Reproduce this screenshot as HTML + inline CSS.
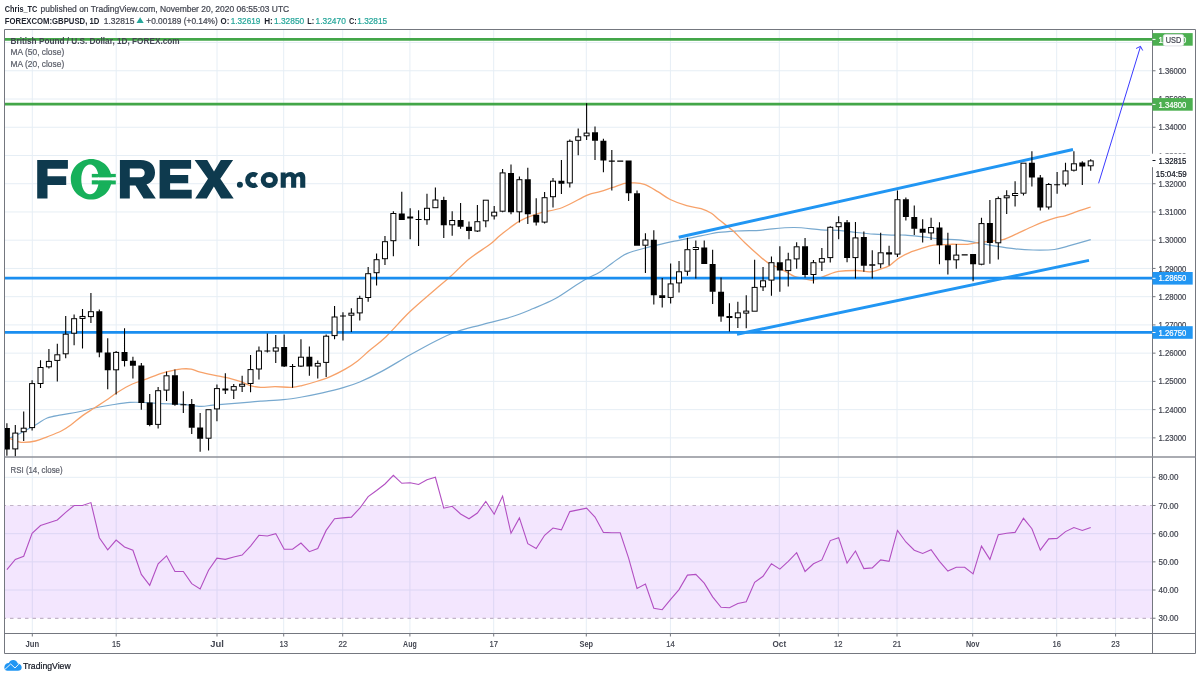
<!DOCTYPE html><html><head><meta charset="utf-8"><style>html,body{margin:0;padding:0;background:#fff;width:1200px;height:678px;overflow:hidden}svg{display:block;will-change:transform}</style></head><body>
<svg width="1200" height="678" viewBox="0 0 1200 678" font-family='"Liberation Sans", sans-serif'>
<defs><clipPath id="cm"><rect x="5" y="30" width="1147" height="426.5"/></clipPath><clipPath id="cr"><rect x="5" y="458" width="1147" height="175"/></clipPath></defs>
<rect width="1200" height="678" fill="#fff"/>
<text x="4.8" y="11.8" font-size="8.8" fill="#1e222d" font-weight="bold" textLength="32.5" lengthAdjust="spacingAndGlyphs">Chris_TC</text>
<text x="40.6" y="11.8" font-size="8.8" fill="#434651" stroke="#434651" stroke-width="0.22" textLength="248.6" lengthAdjust="spacingAndGlyphs">published on TradingView.com, November 20, 2020 06:55:03 UTC</text>
<text x="4.8" y="23.5" font-size="8.8" fill="#1e222d" font-weight="bold" textLength="94.6" lengthAdjust="spacingAndGlyphs">FOREXCOM:GBPUSD, 1D</text>
<text x="103.8" y="23.5" font-size="8.8" fill="#434651" stroke="#434651" stroke-width="0.22" textLength="30.6" lengthAdjust="spacingAndGlyphs">1.32815</text>
<path d="M136.5 23.1L140.1 17.3L143.7 23.1Z" fill="#26a69a"/>
<text x="146.3" y="23.5" font-size="8.8" fill="#434651" stroke="#434651" stroke-width="0.22" textLength="35" lengthAdjust="spacingAndGlyphs">+0.00189</text>
<text x="183.8" y="23.5" font-size="8.8" fill="#434651" stroke="#434651" stroke-width="0.22" textLength="34" lengthAdjust="spacingAndGlyphs">(+0.14%)</text>
<text x="220.6" y="23.5" font-size="8.8" fill="#1e222d" font-weight="bold" textLength="8.8" lengthAdjust="spacingAndGlyphs">O:</text>
<text x="230.7" y="23.5" font-size="8.8" fill="#26a69a" stroke="#26a69a" stroke-width="0.22" textLength="29.7" lengthAdjust="spacingAndGlyphs">1.32619</text>
<text x="264.2" y="23.5" font-size="8.8" fill="#1e222d" font-weight="bold" textLength="8.6" lengthAdjust="spacingAndGlyphs">H:</text>
<text x="274" y="23.5" font-size="8.8" fill="#26a69a" stroke="#26a69a" stroke-width="0.22" textLength="30.2" lengthAdjust="spacingAndGlyphs">1.32850</text>
<text x="307.3" y="23.5" font-size="8.8" fill="#1e222d" font-weight="bold" textLength="7" lengthAdjust="spacingAndGlyphs">L:</text>
<text x="315.6" y="23.5" font-size="8.8" fill="#26a69a" stroke="#26a69a" stroke-width="0.22" textLength="30.2" lengthAdjust="spacingAndGlyphs">1.32470</text>
<text x="349" y="23.5" font-size="8.8" fill="#1e222d" font-weight="bold" textLength="7.8" lengthAdjust="spacingAndGlyphs">C:</text>
<text x="357.3" y="23.5" font-size="8.8" fill="#26a69a" stroke="#26a69a" stroke-width="0.22" textLength="29.8" lengthAdjust="spacingAndGlyphs">1.32815</text>
<path d="M32.3 30V633M116.2 30V633M217 30V633M283.7 30V633M342.7 30V633M409.9 30V633M493.7 30V633M586.3 30V633M670.4 30V633M779.3 30V633M838.3 30V633M897 30V633M972.7 30V633M1056.7 30V633M1115.6 30V633M5 437.87H1152M5 409.63H1152M5 381.39H1152M5 353.15H1152M5 324.91H1152M5 296.68H1152M5 268.44H1152M5 240.2H1152M5 211.96H1152M5 183.72H1152M5 155.49H1152M5 127.25H1152M5 99.01H1152M5 70.77H1152M5 42.53H1152M5 477.32H1152M5 533.68H1152M5 561.86H1152M5 590.04H1152" stroke="#e6eef5" stroke-width="1" fill="none"/>
<rect x="5" y="505.5" width="1147.5" height="112.7" fill="rgb(150,30,245)" fill-opacity="0.11"/>
<path d="M5 505.5H1152M5 618.4H1152" stroke="#c2b4c8" stroke-width="1.1" stroke-dasharray="3.5 4" stroke-dashoffset="2.5" fill="none"/>
<g clip-path="url(#cm)">
<path d="M8.3 438C9.28 437.73 9.68 438.57 14.2 436.4C18.72 434.23 29.9 428.07 35.4 425C40.9 421.93 42.88 419.68 47.2 418C51.52 416.32 56.18 415.9 61.3 414.9C66.42 413.9 72.38 413.15 77.9 412C83.42 410.85 88.88 409.17 94.4 408C99.92 406.83 105.07 405.93 111 405C116.93 404.07 124.03 402.8 130 402.4C135.97 402 141.58 402.4 146.8 402.6C152.02 402.8 155.45 403.33 161.3 403.6C167.15 403.87 175.37 403.75 181.9 404.2C188.43 404.65 195.33 406.15 200.5 406.3C205.67 406.45 207.75 405.55 212.9 405.1C218.05 404.65 225.22 404.08 231.4 403.6C237.58 403.12 245.13 402.62 250 402.2C254.87 401.78 255.05 401.52 260.6 401.1C266.15 400.68 276.42 400.38 283.3 399.7C290.18 399.02 295.37 398.13 301.9 397C308.43 395.87 315.62 394.45 322.5 392.9C329.38 391.35 337 389.52 343.2 387.7C349.4 385.88 353.28 384.72 359.7 382C366.12 379.28 373.35 375.88 381.7 371.4C390.05 366.92 400.78 360.17 409.8 355.1C418.82 350.03 427.85 344.97 435.8 341C443.75 337.03 449.92 334 457.5 331.3C465.08 328.6 472.27 327.22 481.3 324.8C490.33 322.38 503.03 319.52 511.7 316.8C520.37 314.08 526.08 311.5 533.3 308.5C540.52 305.5 547.77 302.77 555 298.8C562.23 294.83 571.28 288.13 576.7 284.7C582.12 281.27 583.62 280.3 587.5 278.2C591.38 276.1 595.85 274.65 600 272.1C604.15 269.55 607.93 265.98 612.4 262.9C616.87 259.82 620.92 256.18 626.8 253.6C632.68 251.02 639.78 249.47 647.7 247.4C655.62 245.33 665.45 243.12 674.3 241.2C683.15 239.28 693.42 237.37 700.8 235.9C708.18 234.43 712.68 233.22 718.6 232.4C724.52 231.58 729.4 231.35 736.3 231C743.2 230.65 754.77 230.58 760 230.3C765.23 230.02 761.98 229.77 767.7 229.3C773.42 228.83 785.45 227.42 794.3 227.5C803.15 227.58 813.42 229.32 820.8 229.8C828.18 230.28 832.68 229.95 838.6 230.4C844.52 230.85 850.4 231.87 856.3 232.5C862.2 233.13 868.17 233.77 874 234.2C879.83 234.63 886.07 234.95 891.3 235.1C896.53 235.25 900.1 234.8 905.4 235.1C910.7 235.4 917.2 236.25 923.1 236.9C929 237.55 934.88 238.5 940.8 239C946.72 239.5 952.68 239.3 958.6 239.9C964.52 240.5 970.4 241.62 976.3 242.6C982.2 243.58 987.48 244.75 994 245.8C1000.52 246.85 1008.88 248.2 1015.4 248.9C1021.92 249.6 1026.6 249.9 1033.1 250C1039.6 250.1 1048.48 250.18 1054.4 249.5C1060.32 248.82 1062.55 247.53 1068.6 245.9C1074.65 244.27 1087.02 240.73 1090.7 239.7" stroke="#78a9cf" stroke-width="1.2" fill="none"/>
<path d="M8.3 438C9.87 438.57 15.15 440.67 17.7 441.4C20.25 442.13 20.65 442.47 23.6 442.4C26.55 442.33 31.47 441.93 35.4 441C39.33 440.07 42.88 438.47 47.2 436.8C51.52 435.13 57.37 432.97 61.3 431C65.23 429.03 67.25 427.57 70.8 425C74.35 422.43 78.67 418.43 82.6 415.6C86.53 412.77 90.47 410.55 94.4 408C98.33 405.45 102.27 402.97 106.2 400.3C110.13 397.63 113.63 394.72 118 392C122.37 389.28 127.6 386.2 132.4 384C137.2 381.8 141.98 380.58 146.8 378.8C151.62 377.02 156.82 374.73 161.3 373.3C165.78 371.87 170.27 370.93 173.7 370.2C177.13 369.47 178.98 369.08 181.9 368.9C184.82 368.72 188.45 368.65 191.2 369.1C193.95 369.55 195.48 370.77 198.4 371.6C201.32 372.43 205.27 373.33 208.7 374.1C212.13 374.87 215.22 375.42 219 376.2C222.78 376.98 227.62 377.85 231.4 378.8C235.18 379.75 238.55 380.77 241.7 381.9C244.85 383.03 247.15 384.7 250.3 385.6C253.45 386.5 256.47 387.12 260.6 387.3C264.73 387.48 269.93 386.7 275.1 386.7C280.27 386.7 287.13 387.48 291.6 387.3C296.07 387.12 297.77 386.57 301.9 385.6C306.03 384.63 311.58 383.05 316.4 381.5C321.22 379.95 326 378.37 330.8 376.3C335.6 374.23 340.73 371.67 345.2 369.1C349.67 366.53 353.47 364.08 357.6 360.9C361.73 357.72 365.27 354.03 370 350C374.73 345.97 379.37 343.07 386 336.7C392.63 330.33 401.5 319.75 409.8 311.8C418.1 303.85 428.93 294.97 435.8 289C442.67 283.03 445.4 281.03 451 276C456.6 270.97 462.9 264.08 469.4 258.8C475.9 253.52 484.8 248.27 490 244.3C495.2 240.33 495.73 238.82 500.6 235C505.47 231.18 513 224.95 519.2 221.4C525.4 217.85 530.58 216.02 537.8 213.7C545.02 211.38 554.25 210.6 562.5 207.5C570.75 204.4 581.05 197.75 587.3 195.1C593.55 192.45 595.82 192.87 600 191.6C604.18 190.33 608.27 188.87 612.4 187.5C616.53 186.13 621.37 184.17 624.8 183.4C628.23 182.63 629.73 182.73 633 182.9C636.27 183.07 640.27 182.95 644.4 184.4C648.53 185.85 653.5 189.08 657.8 191.6C662.1 194.12 665.38 197.15 670.2 199.5C675.02 201.85 681.55 204.18 686.7 205.7C691.85 207.22 696.98 207.33 701.1 208.6C705.22 209.87 708.35 211.4 711.4 213.3C714.45 215.2 715.85 217.12 719.4 220C722.95 222.88 728.42 226.77 732.7 230.6C736.98 234.43 740.73 238.85 745.1 243C749.47 247.15 755.13 252.23 758.9 255.5C762.67 258.77 764.75 260.68 767.7 262.6C770.65 264.52 773.65 265.53 776.6 267C779.55 268.47 782.45 269.83 785.4 271.4C788.35 272.97 791.35 275.22 794.3 276.4C797.25 277.58 800.15 277.85 803.1 278.5C806.05 279.15 809.05 280.45 812 280.3C814.95 280.15 817.85 278.63 820.8 277.6C823.75 276.57 826.73 275.13 829.7 274.1C832.67 273.07 834.17 272 838.6 271.4C843.03 270.8 851.07 270.43 856.3 270.5C861.53 270.57 865.95 272.03 870 271.8C874.05 271.57 877.35 270.13 880.6 269.1C883.85 268.07 886.55 267.37 889.5 265.6C892.45 263.83 895.05 260.63 898.3 258.5C901.55 256.37 904.87 254.57 909 252.8C913.13 251.03 918.97 249.17 923.1 247.9C927.23 246.63 929.37 245.8 933.8 245.2C938.23 244.6 944.1 244.45 949.7 244.3C955.3 244.15 962.68 244.58 967.4 244.3C972.12 244.02 973.57 243.18 978 242.6C982.43 242.02 989.83 241.28 994 240.8C998.17 240.32 999.43 240.77 1003 239.7C1006.57 238.63 1010.67 236.52 1015.4 234.4C1020.13 232.28 1026.97 229 1031.4 227C1035.83 225 1037.87 223.97 1042 222.4C1046.13 220.83 1052.37 218.7 1056.2 217.6C1060.03 216.5 1061.47 216.83 1065 215.8C1068.53 214.77 1073.12 212.87 1077.4 211.4C1081.68 209.93 1088.48 207.73 1090.7 207" stroke="#f7a26a" stroke-width="1.3" fill="none"/>
<path d="M5 39.3H1152M5 104.2H1152" stroke="#43a648" stroke-width="2.7" fill="none"/>
<path d="M5 278.1H1152M5 332.3H1152" stroke="#1a8ef0" stroke-width="2.7" fill="none"/>
<path d="M678.7 237.3L1073 149.5M737 334.2L1089 260.4" stroke="#2196f3" stroke-width="3" fill="none" stroke-linecap="butt"/>
<path d="M6.9 423.2V428.6M6.9 448.9V455.8M15.3 425V433.1M15.3 448.9V457M23.7 411.4V428.2M23.7 431.7V441.1M32.1 380.2V383.6M32.1 427.6V430.5M40.51 360.2V367.5M40.51 383.5V388M48.91 349V361.4M48.91 366.8V368.4M57.31 343.7V354.8M57.31 360.4V381.4M65.71 316V334.2M65.71 353.8V358.3M74.11 314.6V318.7M74.11 333.2V345.3M82.51 309V317M82.51 317.9V348.4M90.92 293V311.7M90.92 316.6V323.1M99.32 309.5V311.7M99.32 352.1V357.3M107.72 338.2V353.1M107.72 369.8V389.2M116.12 351V352.4M116.12 369.8V394.4M124.52 328.3V352.5M124.52 360.4V366.5M132.92 356.8V361.2M132.92 365.3V378.4M141.33 363V365.9M141.33 402.5V409.8M149.73 393.9V403.1M149.73 424.4V426.3M158.13 387.1V390.7M158.13 424.4V428.4M166.53 371.6V375.8M166.53 390.1V401M174.93 369.6V375.8M174.93 404.2V405.7M183.33 391.2V404.7M183.33 404.2V412.9M191.74 398.9V404.5M191.74 427.3V434M200.14 412.9V427.9M200.14 438.2V451.7M208.54 438.2V450.5M216.94 384.4V388.6M216.94 408.9V421.2M225.34 373.3V389.1M225.34 390.1V393.9M233.74 384V386.6M233.74 390.1V398.9M242.14 375.7V384.5M242.14 386V391.9M250.55 355.1V369.6M250.55 383.5V392.3M258.95 346.4V351M258.95 369V379.4M267.35 333.6V351M267.35 351.1V352.6M275.75 335V347.9M275.75 351.1V362.9M284.15 334.4V347.5M284.15 366.1V367M292.55 364V366.5M292.55 366.1V387.7M300.96 339.2V357.2M300.96 366.1V367M309.36 346.4V357.2M309.36 366.1V375.7M317.76 360.4V363.4M317.76 366.1V378.4M326.16 334.4V336.2M326.16 362.4V377M334.56 306.1V317M334.56 335.6V339.2M342.96 312.3V315.9M342.96 316V340.6M351.37 308.2V313.5M351.37 314.9V332M359.77 295.8V298.4M359.77 312.9V320.6M368.17 267V273.7M368.17 297.5V301.7M376.57 253.6V259.7M376.57 272.7V285.6M384.97 236V241.7M384.97 258.7V265M393.37 211.3V213.5M393.37 240.7V256.3M401.78 191.7V213.9M410.18 208.2V217M410.18 218V239.2M418.58 210.3V219.4M418.58 219.5V246M426.98 193.7V208.3M426.98 219.7V224.7M435.38 187.6V200M443.78 196.8V200.4M443.78 224.8V238.1M452.18 211.3V220.5M452.18 224.8V235.7M460.59 203V220.5M460.59 226.3V228.8M468.99 221.6V227.3M468.99 230.4V239.2M477.39 205.1V221.7M477.39 231V232M485.79 220.8V227.3M494.19 206.1V212.2M494.19 215.9V219.5M502.59 168.9V172.9M502.59 211.2V212.3M511 164.6V173.5M511 211.8V214.3M519.4 176.6V179.7M519.4 211.8V222.6M527.8 167.7V179.7M527.8 213.8V224.1M536.2 198.2V215.3M536.2 222.1V225.5M544.6 192V197.7M544.6 222.1V223.4M553 178V181.2M553 196.7V207.5M561.41 160V181.2M561.41 183.3V194.1M569.81 139.4V141.3M569.81 182.9V187.5M578.21 128.4V136.8M578.21 140.3V155.3M586.61 103.3V133.1M586.61 135.8V140M595.01 126.4V132.7M595.01 140.3V160M603.41 138.8V141.3M603.41 160V172.2M611.82 149.9V161.1M611.82 160.8V190.6M628.62 192.8V200.9M637.02 190.6V193.8M645.42 233.3V240M645.42 245.2V273.1M653.82 230.3V240.3M653.82 294.7V304.6M662.22 278V295.7M662.22 297.4V307.6M670.63 263.4V283.9M670.63 297.4V303.5M679.03 261.1V271.8M679.03 282.9V292.6M687.43 237.7V249.7M687.43 271.2V275.8M695.83 240.4V247.9M695.83 249.1V278.4M704.23 240.4V247.9M712.63 249.7V264.4M712.63 291.2V304.1M721.04 277.5V292.2M721.04 316V321.8M729.44 303.2V316.6M729.44 317.4V331.5M737.84 301.8V312.9M737.84 317.7V328M746.24 295.2V311.7M746.24 312.5V328.3M754.64 259.8V287.4M763.04 267V280.8M763.04 286.8V290.9M771.45 256.4V262.7M771.45 280.1V295.8M779.85 246.3V262.7M779.85 270V291.8M788.25 252.8V259.9M788.25 270.6V286.5M796.65 242.2V246.8M796.65 258.9V268.8M805.05 238.1V246.8M805.05 274.5V277.6M813.45 259.9V262.7M813.45 274.5V283.5M821.86 248V258.6M821.86 262.1V271.1M830.26 226.3V227.3M830.26 257.6V262.6M838.66 216.2V222.7M838.66 226.7V239.2M847.06 220.1V222.7M847.06 257.6V262.2M855.46 221.9V237.9M855.46 257.6V278.5M863.86 231.6V237.4M863.86 265.3V271.8M872.26 250.2V264.8M872.26 265.3V278.5M880.67 232.8V252.8M880.67 263.8V268.2M889.07 245.8V252.8M889.07 254.1V265.6M897.47 190.4V199.7M897.47 254.1V257.1M905.87 197.4V199.7M905.87 216.4V220.4M914.27 205.4V217.4M914.27 228.3V235.1M922.67 219.2V229.3M922.67 232.3V242.6M931.08 217.8V227.5M931.08 232.9V239.9M939.48 222.2V228M939.48 244.7V264.2M947.88 232.8V245.7M947.88 259.8V274.4M956.28 244V255.1M956.28 259.8V268.8M973.08 263.7V281.2M981.49 217.8V223.6M981.49 264.2V265.2M989.89 200.1V223.6M989.89 242.4V263.8M998.29 196.4V198.6M998.29 242.8V259.4M1006.69 190.2V196M1006.69 197.6V214.1M1015.09 181.3V193.9M1015.09 195.1V206.5M1023.49 193.2V195.5M1031.9 151.2V163.2M1031.9 176.9V186.6M1040.3 175.1V177.9M1040.3 207V210.5M1048.7 183.1V184.5M1048.7 207V209.6M1057.1 172.1V184.7M1057.1 183.7V193.7M1065.5 162.7V170.9M1065.5 184V186.6M1073.9 151.2V163.8M1073.9 170.2V171.6M1082.3 161.2V163.1M1082.3 166V185.1M1090.71 159.2V160.9M1090.71 165.8V170.7" stroke="#000" stroke-width="1.1" fill="none"/>
<path d="M3.9 428.1h6v21.3h-6zM96.32 311.2h6v41.4h-6zM104.72 352.6h6v17.7h-6zM121.52 352h6v8.9h-6zM129.92 360.7h6v5.1h-6zM138.33 365.4h6v37.6h-6zM146.73 402.6h6v22.3h-6zM171.93 375.3h6v29.4h-6zM180.33 404.2h6v1.1h-6zM188.74 404h6v23.8h-6zM197.14 427.4h6v11.3h-6zM222.34 388.6h6v2h-6zM264.35 350.5h6v1.1h-6zM281.15 347h6v19.6h-6zM289.55 366h6v1.1h-6zM306.36 356.7h6v9.9h-6zM339.96 315.4h6v1.1h-6zM398.78 213.4h6v6.6h-6zM407.18 216.5h6v2h-6zM415.58 218.9h6v1.1h-6zM440.78 199.9h6v25.4h-6zM457.59 220h6v6.8h-6zM465.99 226.8h6v4.1h-6zM508 173h6v39.3h-6zM524.8 179.2h6v35.1h-6zM533.2 214.8h6v7.8h-6zM558.41 180.7h6v3.1h-6zM592.01 132.2h6v8.6h-6zM600.41 140.8h6v19.7h-6zM608.82 160.6h6v1.1h-6zM617.22 160.6h6v1.1h-6zM625.62 160.6h6v32.7h-6zM634.02 193.3h6v52.4h-6zM650.82 239.8h6v55.4h-6zM659.22 295.2h6v2.7h-6zM701.23 247.4h6v16.5h-6zM709.63 263.9h6v27.8h-6zM718.04 291.7h6v24.8h-6zM726.44 316.1h6v1.8h-6zM776.85 262.2h6v8.3h-6zM802.05 246.3h6v28.7h-6zM844.06 222.2h6v35.9h-6zM860.86 236.9h6v28.9h-6zM869.26 264.3h6v1.5h-6zM886.07 252.3h6v2.3h-6zM902.87 199.2h6v17.7h-6zM911.27 216.9h6v11.9h-6zM919.67 228.8h6v4h-6zM936.48 227.5h6v17.7h-6zM944.88 245.2h6v15.1h-6zM961.68 254.3h6v1.1h-6zM970.08 254.1h6v10.1h-6zM986.89 223.1h6v19.8h-6zM1028.9 162.7h6v14.7h-6zM1037.3 177.4h6v30.1h-6zM1054.1 184.2h6v1.1h-6zM1079.3 162.6h6v3.9h-6z" fill="#000"/>
<g fill="#fff" stroke="#000" stroke-width="1"><rect x="12.8" y="433.1" width="5" height="15.8"/><rect x="21.2" y="428.2" width="5" height="3.5"/><rect x="29.6" y="383.6" width="5" height="44"/><rect x="38.01" y="367.5" width="5" height="16"/><rect x="46.41" y="361.4" width="5" height="5.4"/><rect x="54.81" y="354.8" width="5" height="5.6"/><rect x="63.21" y="334.2" width="5" height="19.6"/><rect x="71.61" y="318.7" width="5" height="14.5"/><rect x="80.01" y="316.45" width="5" height="2"/><rect x="88.42" y="311.7" width="5" height="4.9"/><rect x="113.62" y="352.4" width="5" height="17.4"/><rect x="155.63" y="390.7" width="5" height="33.7"/><rect x="164.03" y="375.8" width="5" height="14.3"/><rect x="206.04" y="409.7" width="5" height="28.5"/><rect x="214.44" y="388.6" width="5" height="20.3"/><rect x="231.24" y="386.6" width="5" height="3.5"/><rect x="239.64" y="384.25" width="5" height="2"/><rect x="248.05" y="369.6" width="5" height="13.9"/><rect x="256.45" y="351" width="5" height="18"/><rect x="273.25" y="347.9" width="5" height="3.2"/><rect x="298.46" y="357.2" width="5" height="8.9"/><rect x="315.26" y="363.4" width="5" height="2.7"/><rect x="323.66" y="336.2" width="5" height="26.2"/><rect x="332.06" y="317" width="5" height="18.6"/><rect x="348.87" y="313.2" width="5" height="2"/><rect x="357.27" y="298.4" width="5" height="14.5"/><rect x="365.67" y="273.7" width="5" height="23.8"/><rect x="374.07" y="259.7" width="5" height="13"/><rect x="382.47" y="241.7" width="5" height="17"/><rect x="390.87" y="213.5" width="5" height="27.2"/><rect x="424.48" y="208.3" width="5" height="11.4"/><rect x="432.88" y="200" width="5" height="7.7"/><rect x="449.68" y="220.5" width="5" height="4.3"/><rect x="474.89" y="221.7" width="5" height="9.3"/><rect x="483.29" y="200.2" width="5" height="20.6"/><rect x="491.69" y="212.2" width="5" height="3.7"/><rect x="500.09" y="172.9" width="5" height="38.3"/><rect x="516.9" y="179.7" width="5" height="32.1"/><rect x="542.1" y="197.7" width="5" height="24.4"/><rect x="550.5" y="181.2" width="5" height="15.5"/><rect x="567.31" y="141.3" width="5" height="41.6"/><rect x="575.71" y="136.8" width="5" height="3.5"/><rect x="584.11" y="133.1" width="5" height="2.7"/><rect x="642.92" y="240" width="5" height="5.2"/><rect x="668.13" y="283.9" width="5" height="13.5"/><rect x="676.53" y="271.8" width="5" height="11.1"/><rect x="684.93" y="249.7" width="5" height="21.5"/><rect x="693.33" y="247.5" width="5" height="2"/><rect x="735.34" y="312.9" width="5" height="4.8"/><rect x="743.74" y="311.1" width="5" height="2"/><rect x="752.14" y="287.4" width="5" height="23.8"/><rect x="760.54" y="280.8" width="5" height="6"/><rect x="768.95" y="262.7" width="5" height="17.4"/><rect x="785.75" y="259.9" width="5" height="10.7"/><rect x="794.15" y="246.8" width="5" height="12.1"/><rect x="810.95" y="262.7" width="5" height="11.8"/><rect x="819.36" y="258.6" width="5" height="3.5"/><rect x="827.76" y="227.3" width="5" height="30.3"/><rect x="836.16" y="222.7" width="5" height="4"/><rect x="852.96" y="237.9" width="5" height="19.7"/><rect x="878.17" y="252.8" width="5" height="11"/><rect x="894.97" y="199.7" width="5" height="54.4"/><rect x="928.58" y="227.5" width="5" height="5.4"/><rect x="953.78" y="255.1" width="5" height="4.7"/><rect x="978.99" y="223.6" width="5" height="40.6"/><rect x="995.79" y="198.6" width="5" height="44.2"/><rect x="1004.19" y="195.8" width="5" height="2"/><rect x="1012.59" y="193.5" width="5" height="2"/><rect x="1020.99" y="163.2" width="5" height="30"/><rect x="1046.2" y="184.5" width="5" height="22.5"/><rect x="1063" y="170.9" width="5" height="13.1"/><rect x="1071.4" y="163.8" width="5" height="6.4"/><rect x="1088.21" y="160.9" width="5" height="4.9"/></g>
<path d="M1098.6 183.3L1140.5 46.5M1136.1 48.5L1140.5 46.3L1142.7 50.5" stroke="#3a3aff" stroke-width="1" fill="none"/>
<text x="10.6" y="44" font-size="8.8" fill="#434651" font-weight="bold" textLength="169" lengthAdjust="spacingAndGlyphs">British Pound / U.S. Dollar, 1D, FOREX.com</text>
<text x="10.6" y="55.3" font-size="8.8" fill="#5d606b" stroke="#5d606b" stroke-width="0.22" textLength="53.6" lengthAdjust="spacingAndGlyphs">MA (50, close)</text>
<text x="10.6" y="66.6" font-size="8.8" fill="#5d606b" stroke="#5d606b" stroke-width="0.22" textLength="53.6" lengthAdjust="spacingAndGlyphs">MA (20, close)</text>
</g>
<g clip-path="url(#cr)">
<path d="M6.9 569.6 L15.3 559.4 L23.7 556.3 L32.1 533.3 L40.51 525.6 L48.91 522.7 L57.31 520 L65.71 512.3 L74.11 505.5 L82.51 505.5 L90.92 502.6 L99.32 537.7 L107.72 549.8 L116.12 540.1 L124.52 546.9 L132.92 550.2 L141.33 574.4 L149.73 585.3 L158.13 563.8 L166.53 555.8 L174.93 571.5 L183.33 571.5 L191.74 583.6 L200.14 588.9 L208.54 570.3 L216.94 558.2 L225.34 559.4 L233.74 557 L242.14 555.1 L250.55 546.1 L258.95 535.3 L267.35 536 L275.75 533.6 L284.15 549.3 L292.55 549.3 L300.96 543 L309.36 551.7 L317.76 548.6 L326.16 530.4 L334.56 518.8 L342.96 517.9 L351.37 517.1 L359.77 508.2 L368.17 496.6 L376.57 490.5 L384.97 484 L393.37 475.3 L401.78 483.3 L410.18 482.8 L418.58 484.5 L426.98 479.7 L435.38 477.3 L443.78 508.2 L452.18 506.3 L460.59 514 L468.99 518.8 L477.39 513 L485.79 501.4 L494.19 514.2 L502.59 496.1 L511 533.3 L519.4 517.9 L527.8 543.7 L536.2 548.6 L544.6 535.3 L553 528 L561.41 529.9 L569.81 511.6 L578.21 509.9 L586.61 508.2 L595.01 517.1 L603.41 532.4 L611.82 532.8 L620.22 532.8 L628.62 558.2 L637.02 588.4 L645.42 584.1 L653.82 608.2 L662.22 609.7 L670.63 599.3 L679.03 589.6 L687.43 575.1 L695.83 574.4 L704.23 583.1 L712.63 596.9 L721.04 607.3 L729.44 607.8 L737.84 603.4 L746.24 601.7 L754.64 582.4 L763.04 576.3 L771.45 563.8 L779.85 569.1 L788.25 561.4 L796.65 552.7 L805.05 571.5 L813.45 563.8 L821.86 559.9 L830.26 540.6 L838.66 537.7 L847.06 563.1 L855.46 551 L863.86 568.6 L872.26 567.9 L880.67 559.9 L889.07 561.4 L897.47 530.4 L905.87 542 L914.27 550.2 L922.67 553.4 L931.08 549.8 L939.48 561.4 L947.88 571 L956.28 567.2 L964.68 567.2 L973.08 573.9 L981.49 546.1 L989.89 559.4 L998.29 534.8 L1006.69 533.3 L1015.09 532.4 L1023.49 518.3 L1031.9 528.7 L1040.3 550.2 L1048.7 538.9 L1057.1 538.4 L1065.5 531.6 L1073.9 527.5 L1082.3 530.4 L1090.71 527.5" stroke="#b24fc2" stroke-width="1.1" fill="none"/>
<text x="10.6" y="473.2" font-size="8.8" fill="#5d606b" stroke="#5d606b" stroke-width="0.22" textLength="52" lengthAdjust="spacingAndGlyphs">RSI (14, close)</text>
</g>
<path d="M4.5 29.5H1195.5V653.5H4.5Z M1152.5 29.5V653.5M4.5 633.5H1195.5" stroke="#74777f" stroke-width="1" fill="none"/>
<path d="M4.5 457H1195.5" stroke="#8e9199" stroke-width="1.6" fill="none"/>
<text x="32.3" y="647" font-size="8.8" fill="#434651" font-weight="bold" textLength="13.6" lengthAdjust="spacingAndGlyphs" text-anchor="middle">Jun</text>
<text x="116.2" y="647" font-size="8.8" fill="#434651" stroke="#434651" stroke-width="0.22" textLength="8.5" lengthAdjust="spacingAndGlyphs" text-anchor="middle">15</text>
<text x="217" y="647" font-size="8.8" fill="#434651" font-weight="bold" textLength="13.6" lengthAdjust="spacingAndGlyphs" text-anchor="middle">Jul</text>
<text x="283.7" y="647" font-size="8.8" fill="#434651" stroke="#434651" stroke-width="0.22" textLength="8.5" lengthAdjust="spacingAndGlyphs" text-anchor="middle">13</text>
<text x="342.7" y="647" font-size="8.8" fill="#434651" stroke="#434651" stroke-width="0.22" textLength="8.5" lengthAdjust="spacingAndGlyphs" text-anchor="middle">22</text>
<text x="409.9" y="647" font-size="8.8" fill="#434651" font-weight="bold" textLength="13.6" lengthAdjust="spacingAndGlyphs" text-anchor="middle">Aug</text>
<text x="493.7" y="647" font-size="8.8" fill="#434651" stroke="#434651" stroke-width="0.22" textLength="8.5" lengthAdjust="spacingAndGlyphs" text-anchor="middle">17</text>
<text x="586.3" y="647" font-size="8.8" fill="#434651" font-weight="bold" textLength="13.6" lengthAdjust="spacingAndGlyphs" text-anchor="middle">Sep</text>
<text x="670.4" y="647" font-size="8.8" fill="#434651" stroke="#434651" stroke-width="0.22" textLength="8.5" lengthAdjust="spacingAndGlyphs" text-anchor="middle">14</text>
<text x="779.3" y="647" font-size="8.8" fill="#434651" font-weight="bold" textLength="13.6" lengthAdjust="spacingAndGlyphs" text-anchor="middle">Oct</text>
<text x="838.3" y="647" font-size="8.8" fill="#434651" stroke="#434651" stroke-width="0.22" textLength="8.5" lengthAdjust="spacingAndGlyphs" text-anchor="middle">12</text>
<text x="897" y="647" font-size="8.8" fill="#434651" stroke="#434651" stroke-width="0.22" textLength="8.5" lengthAdjust="spacingAndGlyphs" text-anchor="middle">21</text>
<text x="972.7" y="647" font-size="8.8" fill="#434651" font-weight="bold" textLength="13.6" lengthAdjust="spacingAndGlyphs" text-anchor="middle">Nov</text>
<text x="1056.7" y="647" font-size="8.8" fill="#434651" stroke="#434651" stroke-width="0.22" textLength="8.5" lengthAdjust="spacingAndGlyphs" text-anchor="middle">16</text>
<text x="1115.6" y="647" font-size="8.8" fill="#434651" stroke="#434651" stroke-width="0.22" textLength="8.5" lengthAdjust="spacingAndGlyphs" text-anchor="middle">23</text>
<path d="M32.3 633.5v3M116.2 633.5v3M217 633.5v3M283.7 633.5v3M342.7 633.5v3M409.9 633.5v3M493.7 633.5v3M586.3 633.5v3M670.4 633.5v3M779.3 633.5v3M838.3 633.5v3M897 633.5v3M972.7 633.5v3M1056.7 633.5v3M1115.6 633.5v3" stroke="#74777f" stroke-width="1" fill="none"/>
<text x="1158.5" y="440.97" font-size="8.6" fill="#434651" stroke="#434651" stroke-width="0.22" textLength="27.9" lengthAdjust="spacingAndGlyphs">1.23000</text>
<text x="1158.5" y="412.73" font-size="8.6" fill="#434651" stroke="#434651" stroke-width="0.22" textLength="27.9" lengthAdjust="spacingAndGlyphs">1.24000</text>
<text x="1158.5" y="384.49" font-size="8.6" fill="#434651" stroke="#434651" stroke-width="0.22" textLength="27.9" lengthAdjust="spacingAndGlyphs">1.25000</text>
<text x="1158.5" y="356.25" font-size="8.6" fill="#434651" stroke="#434651" stroke-width="0.22" textLength="27.9" lengthAdjust="spacingAndGlyphs">1.26000</text>
<text x="1158.5" y="328.01" font-size="8.6" fill="#434651" stroke="#434651" stroke-width="0.22" textLength="27.9" lengthAdjust="spacingAndGlyphs">1.27000</text>
<text x="1158.5" y="299.78" font-size="8.6" fill="#434651" stroke="#434651" stroke-width="0.22" textLength="27.9" lengthAdjust="spacingAndGlyphs">1.28000</text>
<text x="1158.5" y="271.54" font-size="8.6" fill="#434651" stroke="#434651" stroke-width="0.22" textLength="27.9" lengthAdjust="spacingAndGlyphs">1.29000</text>
<text x="1158.5" y="243.3" font-size="8.6" fill="#434651" stroke="#434651" stroke-width="0.22" textLength="27.9" lengthAdjust="spacingAndGlyphs">1.30000</text>
<text x="1158.5" y="215.06" font-size="8.6" fill="#434651" stroke="#434651" stroke-width="0.22" textLength="27.9" lengthAdjust="spacingAndGlyphs">1.31000</text>
<text x="1158.5" y="186.82" font-size="8.6" fill="#434651" stroke="#434651" stroke-width="0.22" textLength="27.9" lengthAdjust="spacingAndGlyphs">1.32000</text>
<text x="1158.5" y="158.59" font-size="8.6" fill="#434651" stroke="#434651" stroke-width="0.22" textLength="27.9" lengthAdjust="spacingAndGlyphs">1.33000</text>
<text x="1158.5" y="130.35" font-size="8.6" fill="#434651" stroke="#434651" stroke-width="0.22" textLength="27.9" lengthAdjust="spacingAndGlyphs">1.34000</text>
<text x="1158.5" y="102.11" font-size="8.6" fill="#434651" stroke="#434651" stroke-width="0.22" textLength="27.9" lengthAdjust="spacingAndGlyphs">1.35000</text>
<text x="1158.5" y="73.87" font-size="8.6" fill="#434651" stroke="#434651" stroke-width="0.22" textLength="27.9" lengthAdjust="spacingAndGlyphs">1.36000</text>
<text x="1158.5" y="480.42" font-size="8.6" fill="#434651" stroke="#434651" stroke-width="0.22" textLength="20" lengthAdjust="spacingAndGlyphs">80.00</text>
<text x="1158.5" y="508.6" font-size="8.6" fill="#434651" stroke="#434651" stroke-width="0.22" textLength="20" lengthAdjust="spacingAndGlyphs">70.00</text>
<text x="1158.5" y="536.78" font-size="8.6" fill="#434651" stroke="#434651" stroke-width="0.22" textLength="20" lengthAdjust="spacingAndGlyphs">60.00</text>
<text x="1158.5" y="564.96" font-size="8.6" fill="#434651" stroke="#434651" stroke-width="0.22" textLength="20" lengthAdjust="spacingAndGlyphs">50.00</text>
<text x="1158.5" y="593.14" font-size="8.6" fill="#434651" stroke="#434651" stroke-width="0.22" textLength="20" lengthAdjust="spacingAndGlyphs">40.00</text>
<text x="1158.5" y="621.32" font-size="8.6" fill="#434651" stroke="#434651" stroke-width="0.22" textLength="20" lengthAdjust="spacingAndGlyphs">30.00</text>
<path d="M1152.5 437.87h3M1152.5 409.63h3M1152.5 381.39h3M1152.5 353.15h3M1152.5 324.91h3M1152.5 296.68h3M1152.5 268.44h3M1152.5 240.2h3M1152.5 211.96h3M1152.5 183.72h3M1152.5 155.49h3M1152.5 127.25h3M1152.5 99.01h3M1152.5 70.77h3M1152.5 477.32h3M1152.5 505.5h3M1152.5 533.68h3M1152.5 561.86h3M1152.5 590.04h3M1152.5 618.22h3" stroke="#74777f" stroke-width="1" fill="none"/>
<rect x="1152.5" y="33.1" width="40.2" height="12.6" fill="#4caf50"/>
<path d="M1152.5 39.4h3" stroke="#fff" stroke-width="1"/>
<text x="1158.5" y="42.5" font-size="8.6" fill="#fff" stroke="#fff" stroke-width="0.22" textLength="27.9" lengthAdjust="spacingAndGlyphs">1.37150</text>
<rect x="1152.5" y="98.1" width="40.2" height="12.6" fill="#4caf50"/>
<path d="M1152.5 104.4h3" stroke="#fff" stroke-width="1"/>
<text x="1158.5" y="107.5" font-size="8.6" fill="#fff" stroke="#fff" stroke-width="0.22" textLength="27.9" lengthAdjust="spacingAndGlyphs">1.34800</text>
<rect x="1152.5" y="272" width="40.2" height="12.6" fill="#2196f3"/>
<path d="M1152.5 278.3h3" stroke="#fff" stroke-width="1"/>
<text x="1158.5" y="281.4" font-size="8.6" fill="#fff" stroke="#fff" stroke-width="0.22" textLength="27.9" lengthAdjust="spacingAndGlyphs">1.28650</text>
<rect x="1152.5" y="326.2" width="40.2" height="12.6" fill="#2196f3"/>
<path d="M1152.5 332.5h3" stroke="#fff" stroke-width="1"/>
<text x="1158.5" y="335.6" font-size="8.6" fill="#fff" stroke="#fff" stroke-width="0.22" textLength="27.9" lengthAdjust="spacingAndGlyphs">1.26750</text>
<rect x="1163.2" y="34.4" width="20.6" height="11.5" rx="2.5" fill="#fff" stroke="#d6d8de" stroke-width="0.8"/>
<text x="1173.5" y="43.2" font-size="8.6" fill="#434651" stroke="#434651" stroke-width="0.22" textLength="15.5" lengthAdjust="spacingAndGlyphs" text-anchor="middle">USD</text>
<rect x="1150" y="153.7" width="45" height="13.5" fill="#fff"/>
<path d="M1152.5 160.5h3" stroke="#131722" stroke-width="1"/>
<text x="1158.5" y="164.2" font-size="8.6" fill="#131722" stroke="#131722" stroke-width="0.22" textLength="27.9" lengthAdjust="spacingAndGlyphs">1.32815</text>
<text x="1155.8" y="177.2" font-size="8.6" fill="#131722" stroke="#131722" stroke-width="0.22" textLength="31" lengthAdjust="spacingAndGlyphs">15:04:59</text>
<g fill="#0e3a4e">
<path d="M37.2 159.9H67.9V168.7H47.5V176.3H66.2V185H47.5V198.4H37.2Z"/>
<path d="M119.9 159.9H140.5C150 159.9 155 165 155 172.4C155 178.5 151.5 182.6 146.5 184.3L155.8 198.4H143.6L135.5 185.6H129.8V198.4H119.9ZM129.8 168.4V177.3H140C143 177.3 144.7 175.6 144.7 172.8C144.7 170 143 168.4 140 168.4Z"/>
<path d="M159.6 159.9H191.1V168.7H170.1V175.1H188.2V183.3H170.1V189.7H191.7V198.4H159.6Z"/>
<path d="M194.6 159.9H207.2L214 171.5L220.8 159.9H233.1L220.3 178.8L233.7 198.4H221L213.9 186.6L206.8 198.4H195.2L208 178.8Z"/>
<circle cx="239.9" cy="184.8" r="3"/>
</g>
<path fill="#17b05a" fill-rule="evenodd" d="M91.2 159.1C102.5 159.1 111.7 168 111.7 179.3C111.7 190.6 102.5 199.6 91.2 199.6C80 199.6 70.8 190.6 70.8 179.3C70.8 168 80 159.1 91.2 159.1ZM90 164.6C85 164.6 81.3 171 81.3 179.4C81.3 187.9 85 194.3 90 194.3C95 194.3 98.8 187.9 98.8 179.4C98.8 171 95 164.6 90 164.6Z"/>
<rect x="91.8" y="173.9" width="24" height="3.5" fill="#17b05a"/>
<rect x="91.8" y="180.3" width="24" height="4.1" fill="#17b05a"/>
<rect x="98" y="177.4" width="18" height="2.9" fill="#fff"/>
<g fill="none" stroke="#0e3a4e" stroke-width="5">
<path d="M256.6 175.5A5.6 5.6 0 1 0 256.6 184.5"/>
<ellipse cx="269.3" cy="180" rx="6.1" ry="5.5"/>
</g>
<path fill="#0e3a4e" d="M280.7 172.6H285.6V174.2C286.8 172.8 288.4 172 290.4 172C292.6 172 294.2 173 295.1 174.6C296.4 172.9 298.2 172 300.4 172C303.5 172 305.3 174 305.3 177.5V187.7H300.2V178.6C300.2 177.2 299.6 176.4 298.4 176.4C297.1 176.4 296.2 177.4 296.2 179V187.7H291.1V178.6C291.1 177.2 290.5 176.4 289.3 176.4C288 176.4 285.8 177.4 285.8 179V187.7H280.7Z"/>
<g fill="#2196f3"><path d="M4.3 667.5C4.3 664.8 6.3 663 8.8 663C9.6 661.2 11.2 660 13.2 660C15.5 660 17.3 661.5 17.8 663.6C20 663.9 21.7 665.6 21.7 667.6C21.7 669.7 20 670.8 18 670.8H7.5C5.6 670.8 4.3 669.5 4.3 667.5Z"/></g>
<path d="M5 669.3L10.7 664L15 668L18.7 664.2" stroke="#fff" stroke-width="0.9" fill="none"/>
<text x="23" y="668.6" font-size="9" fill="#131722" stroke="#131722" stroke-width="0.22" textLength="47.7" lengthAdjust="spacingAndGlyphs">TradingView</text>
</svg></body></html>
